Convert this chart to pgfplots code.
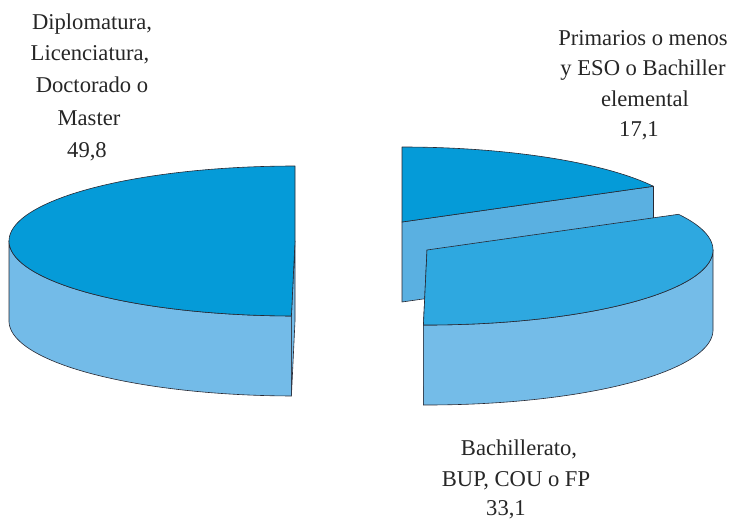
\documentclass[border=0pt]{standalone}
\usepackage{pgfplots}
\pgfplotsset{compat=1.18}
\usepackage{fontspec}
\setmainfont{Liberation Serif}
\definecolor{topA}{RGB}{5,155,216}
\definecolor{sideA}{RGB}{115,187,232}
\definecolor{sideS}{RGB}{90,176,225}
\definecolor{topB}{RGB}{46,168,224}
\definecolor{sideB}{RGB}{116,188,232}
\definecolor{edge}{RGB}{40,40,50}
\begin{document}
\begin{tikzpicture}[declare function={
  tT(\s,\p,\q)=(\s<1)*(\p+(\q-\p)*\s)+(\s>=1)*(\s<2)*\q+(\s>=2)*\p;
  rT(\s)=(\s<1)*1+(\s>=1)*(\s<2)*(2-\s)+(\s>=2)*(\s-2);
  tS(\s,\p,\q)=(\s<1)*(\p+(\q-\p)*\s)+(\s>=1)*(\s<2)*\q+(\s>=2)*(\s<3)*(\q-(\q-\p)*(\s-2))+(\s>=3)*\p;
  dS(\s)=(\s>=1)*(\s<2)*(\s-1)+(\s>=2)*(\s<3)*1+(\s>=3)*(4-\s);
}]
% data (percent)
\def\vA{49.8}\def\vS{17.1}\def\vB{33.1}
\pgfmathsetmacro\aEnd{90+3.6*\vA}
\pgfmathsetmacro\sStart{90-3.6*\vS}
\pgfmathsetmacro\bStart{\sStart-3.6*\vB}
\def\rx{286}\def\ry{75}\def\dd{80}
% centres
\def\cxA{295}\def\cyA{241}
\def\cxS{402}\def\cyS{222}
\def\cxB{427}\def\cyB{250}
% radial face points
\pgfmathsetmacro\xAe{\cxA+\rx*cos(\aEnd)}\pgfmathsetmacro\yAe{\cyA-\ry*sin(\aEnd)}
\pgfmathsetmacro\yAeb{\yAe+\dd}\pgfmathsetmacro\yAcb{\cyA+\dd}
\pgfmathsetmacro\xSe{\cxS+\rx*cos(\sStart)}\pgfmathsetmacro\ySe{\cyS-\ry*sin(\sStart)}
\pgfmathsetmacro\ySeb{\ySe+\dd}\pgfmathsetmacro\yScb{\cyS+\dd}
\pgfmathsetmacro\xBe{\cxB+\rx*cos(\bStart)}\pgfmathsetmacro\yBe{\cyB-\ry*sin(\bStart)}
\pgfmathsetmacro\yBeb{\yBe+\dd}\pgfmathsetmacro\yBcb{\cyB+\dd}
\begin{axis}[
  width=736pt, height=521pt, scale only axis,
  xmin=0, xmax=736, ymin=0, ymax=521, y dir=reverse,
  hide axis, clip=false,
  every axis plot/.append style={line width=0.6pt, draw=edge, line join=round},
]
% ---- left slice (49.8)
\addplot[fill=sideA] coordinates {(\cxA,\cyA) (\xAe,\yAe) (\xAe,\yAeb) (\cxA,\yAcb) (\cxA,\cyA)};
\addplot[fill=sideA, domain=0:4, samples=401, variable=\s]
  ({\cxA+\rx*cos(tS(\s,180,\aEnd))}, {\cyA-\ry*sin(tS(\s,180,\aEnd))+\dd*dS(\s)});
\addplot[fill=topA, domain=0:3, samples=361, variable=\s]
  ({\cxA+rT(\s)*\rx*cos(tT(\s,90,\aEnd))}, {\cyA-rT(\s)*\ry*sin(tT(\s,90,\aEnd))});
% ---- small slice (17.1)
\addplot[fill=sideS] coordinates {(\cxS,\cyS) (\xSe,\ySe) (\xSe,\ySeb) (\cxS,\yScb) (\cxS,\cyS)};
\addplot[fill=topA, domain=0:3, samples=361, variable=\s]
  ({\cxS+rT(\s)*\rx*cos(tT(\s,\sStart,90))}, {\cyS-rT(\s)*\ry*sin(tT(\s,\sStart,90))});
% ---- Bachillerato slice (33.1)
\addplot[fill=sideB] coordinates {(\cxB,\cyB) (\xBe,\yBe) (\xBe,\yBeb) (\cxB,\yBcb) (\cxB,\cyB)};
\addplot[fill=sideB, domain=0:4, samples=401, variable=\s]
  ({\cxB+\rx*cos(tS(\s,\bStart,0))}, {\cyB-\ry*sin(tS(\s,\bStart,0))+\dd*dS(\s)});
\addplot[fill=topB, domain=0:3, samples=361, variable=\s]
  ({\cxB+rT(\s)*\rx*cos(tT(\s,\bStart,\sStart))}, {\cyB-rT(\s)*\ry*sin(tT(\s,\bStart,\sStart))});
% ---- labels
\begin{scope}[every node/.style={anchor=base, font=\fontsize{22.6}{28}\selectfont, text=black!85, inner sep=0pt}]
\node at (axis cs:92,30) {Diplomatura,};
\node at (axis cs:90,61) {Licenciatura,};
\node at (axis cs:92,93) {Doctorado o};
\node at (axis cs:89,126) {Master};
\node at (axis cs:87,158) {49,8};
\node at (axis cs:643,46) {Primarios o menos};
\node at (axis cs:643,76) {y ESO o Bachiller};
\node at (axis cs:645,107) {elemental};
\node at (axis cs:639,137) {17,1};
\node at (axis cs:519,455) {Bachillerato,};
\node at (axis cs:516,486) {BUP, COU o FP};
\node at (axis cs:506,515) {33,1};
\end{scope}
\end{axis}
\pgfresetboundingbox
\path[use as bounding box] (current axis.south west) rectangle (current axis.north east);
\end{tikzpicture}
\end{document}
